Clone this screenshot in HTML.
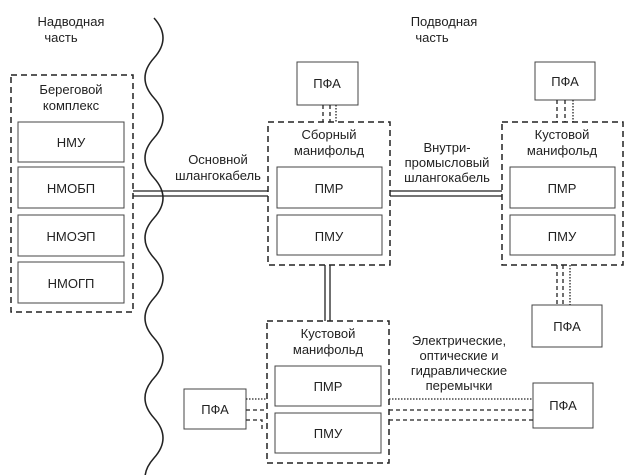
<!DOCTYPE html>
<html><head><meta charset="utf-8"><style>
body{margin:0;background:#fff}
svg{display:block}
text{font-family:"Liberation Sans",Arial,sans-serif;font-size:13px;fill:#222}
</style></head><body>
<svg width="635" height="475" viewBox="0 0 635 475" xmlns="http://www.w3.org/2000/svg">
<g fill="none" stroke="#222" stroke-width="1.5">
<path d="M154,18 Q172,38 154,58 T154,98 T154,138 T154,178 T154,218 T154,258 T154,298 T154,338 T154,378 T154,418 T154,458 T154,498"/>
<g stroke-dasharray="6,4">
<rect x="11" y="75" width="122" height="237"/>
<rect x="268" y="122" width="122" height="143"/>
<rect x="502" y="122" width="121" height="143"/>
<rect x="267" y="321" width="122" height="142"/>
</g>
</g>
<g fill="#fff" stroke="#444" stroke-width="1">
<rect x="18" y="122" width="106" height="40"/>
<rect x="18" y="167" width="106" height="41"/>
<rect x="18" y="215" width="106" height="41"/>
<rect x="18" y="262" width="106" height="41"/>
<rect x="277" y="167" width="105" height="41"/>
<rect x="277" y="215" width="105" height="40"/>
<rect x="510" y="167" width="105" height="41"/>
<rect x="510" y="215" width="105" height="40"/>
<rect x="275" y="366" width="106" height="40"/>
<rect x="275" y="413" width="106" height="40"/>
<rect x="297" y="62" width="61" height="43"/>
<rect x="535" y="62" width="60" height="38"/>
<rect x="532" y="305" width="70" height="42"/>
<rect x="533" y="383" width="60" height="45"/>
<rect x="184" y="389" width="62" height="40"/>
</g>
<g stroke="#222" stroke-width="1.3" fill="none">
<path d="M133,191H268M133,196H268"/>
<path d="M390,191H502M390,196H502"/>
<path d="M325,265V321M330,265V321"/>
</g>
<g stroke="#222" stroke-width="1.3" fill="none">
<g stroke-dasharray="4,3">
<path d="M323,105V122M330,105V122"/>
<path d="M557,100V122M565,100V122"/>
<path d="M557,265V305M563,265V305"/>
<path d="M389,410H533M389,420H533"/>
<path d="M246,410H267M246,420H262V430"/>
</g>
<g stroke-dasharray="1.5,1.5">
<path d="M336,105V122M573,100V122M570,265V305"/>
<path d="M389,399H533M246,399H267"/>
</g>
</g>
<g text-anchor="middle">
<text x="71" y="94">Береговой</text><text x="71" y="110">комплекс</text>
<text x="71" y="147">НМУ</text><text x="71" y="193">НМОБП</text>
<text x="71" y="241">НМОЭП</text><text x="71" y="288">НМОГП</text>
<text x="329" y="139">Сборный</text><text x="329" y="155">манифольд</text>
<text x="329" y="193">ПМР</text><text x="329" y="241">ПМУ</text>
<text x="562" y="139">Кустовой</text><text x="562" y="155">манифольд</text>
<text x="562" y="193">ПМР</text><text x="562" y="241">ПМУ</text>
<text x="328" y="338">Кустовой</text><text x="328" y="354">манифольд</text>
<text x="328" y="391">ПМР</text><text x="328" y="438">ПМУ</text>
<text x="327" y="88">ПФА</text><text x="565" y="86">ПФА</text>
<text x="567" y="331">ПФА</text><text x="563" y="410">ПФА</text>
<text x="215" y="414">ПФА</text>
<text x="218" y="164">Основной</text><text x="218" y="180">шлангокабель</text>
<text x="447" y="152">Внутри-</text><text x="447" y="167">промысловый</text><text x="447" y="182">шлангокабель</text>
<text x="459" y="345">Электрические,</text><text x="459" y="360">оптические и</text>
<text x="459" y="375">гидравлические</text><text x="459" y="390">перемычки</text>
<text x="71" y="26">Надводная</text><text x="61" y="42">часть</text>
<text x="444" y="26">Подводная</text><text x="432" y="42">часть</text>
</g>
</svg>
</body></html>
